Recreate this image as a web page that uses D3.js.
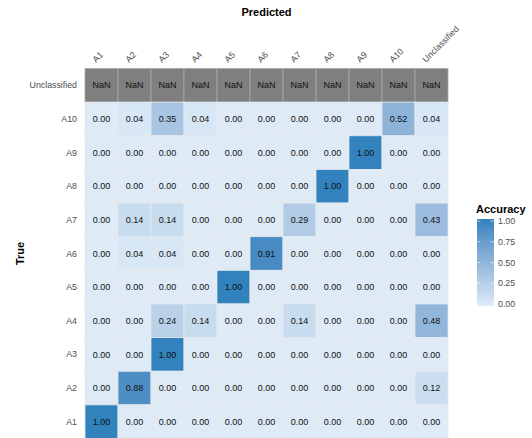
<!DOCTYPE html>
<meta charset="utf-8">
<script src="https://d3js.org/d3.v7.min.js"></script>
<style>
  body { margin: 0; background: #fff; }
  text { font-family: "Liberation Sans", Arial, sans-serif; }
</style>
<div id="chart"></div>
<script>

// classes, predicted along x, true along y (top row first)
const predicted = ["A1", "A2", "A3", "A4", "A5", "A6", "A7", "A8", "A9", "A10", "Unclassified"];
const trueRows = ["Unclassified", "A10", "A9", "A8", "A7", "A6", "A5", "A4", "A3", "A2", "A1"];

// accuracy per true class, columns in the order of `predicted`
const accA1  = [1, 0, 0, 0, 0, 0, 0, 0, 0, 0, 0];
const accA2  = [0, 0.88, 0, 0, 0, 0, 0, 0, 0, 0, 0.12];
const accA3  = [0, 0, 1, 0, 0, 0, 0, 0, 0, 0, 0];
const accA4  = [0, 0, 0.24, 0.14, 0, 0, 0.14, 0, 0, 0, 0.48];
const accA5  = [0, 0, 0, 0, 1, 0, 0, 0, 0, 0, 0];
const accA6  = [0, 0.04, 0.04, 0, 0, 0.91, 0, 0, 0, 0, 0];
const accA7  = [0, 0.14, 0.14, 0, 0, 0, 0.29, 0, 0, 0, 0.43];
const accA8  = [0, 0, 0, 0, 0, 0, 0, 1, 0, 0, 0];
const accA9  = [0, 0, 0, 0, 0, 0, 0, 0, 1, 0, 0];
const accA10 = [0, 0.04, 0.35, 0.04, 0, 0, 0, 0, 0, 0.52, 0.04];
const accUnclassified = [NaN, NaN, NaN, NaN, NaN, NaN, NaN, NaN, NaN, NaN, NaN];

const legendTicks = [0, 0.25, 0.5, 0.75, 1];

const byRow = {
  A1: accA1, A2: accA2, A3: accA3, A4: accA4, A5: accA5, A6: accA6,
  A7: accA7, A8: accA8, A9: accA9, A10: accA10, Unclassified: accUnclassified
};

const cells = [];
trueRows.forEach(r => {
  byRow[r].forEach((v, i) => cells.push({truth: r, pred: predicted[i], value: v}));
});

const W = 532, H = 438;
const svg = d3.select("#chart").append("svg")
  .attr("width", W).attr("height", H);

const x = d3.scaleBand().domain(predicted).range([85, 448]);
const y = d3.scaleBand().domain(trueRows).range([68.5, 438.5]);

const color = d3.scaleLinear()
  .domain([0, 1])
  .range(["#deebf7", "#3182bd"])
  .interpolate(d3.interpolateLab);

// tiles
svg.append("g")
  .selectAll("rect")
  .data(cells)
  .join("rect")
    .attr("x", d => x(d.pred))
    .attr("y", d => y(d.truth))
    .attr("width", x.bandwidth())
    .attr("height", y.bandwidth())
    .attr("fill", d => isNaN(d.value) ? "#7f7f7f" : color(d.value))
    .attr("stroke", d => isNaN(d.value) ? "#a8a8a8" : "#e6e8ea")
    .attr("stroke-width", 0.8);

// cell labels
svg.append("g")
  .selectAll("text")
  .data(cells)
  .join("text")
    .attr("x", d => x(d.pred) + x.bandwidth() / 2)
    .attr("y", d => y(d.truth) + y.bandwidth() / 2)
    .attr("dy", "0.35em")
    .attr("text-anchor", "middle")
    .style("font-size", "9px")
    .style("fill", "#111")
    .text(d => isNaN(d.value) ? "NaN" : d.value.toFixed(2));

// row labels
svg.append("g")
  .selectAll("text")
  .data(trueRows)
  .join("text")
    .attr("x", 77)
    .attr("y", d => y(d) + y.bandwidth() / 2)
    .attr("dy", "0.35em")
    .attr("text-anchor", "end")
    .style("font-size", "8.8px")
    .style("fill", "#4d4d4d")
    .text(d => d);

// column labels, rotated 45 degrees
svg.append("g")
  .selectAll("text")
  .data(predicted)
  .join("text")
    .attr("transform", d => `translate(${x(d) + x.bandwidth() / 2 - 5.5}, 63) rotate(-45)`)
    .style("font-size", "8.8px")
    .style("fill", "#4d4d4d")
    .text(d => d);

// axis titles
svg.append("text")
  .attr("x", (85 + 448) / 2)
  .attr("y", 16)
  .attr("text-anchor", "middle")
  .style("font-size", "11px")
  .style("font-weight", "bold")
  .text("Predicted");

svg.append("text")
  .attr("transform", `translate(24, ${(68.5 + 438.5) / 2}) rotate(-90)`)
  .attr("text-anchor", "middle")
  .style("font-size", "11px")
  .style("font-weight", "bold")
  .text("True");

// legend
const defs = svg.append("defs");
const grad = defs.append("linearGradient")
  .attr("id", "acc-grad")
  .attr("x1", 0).attr("y1", 1).attr("x2", 0).attr("y2", 0);
d3.range(0, 1.01, 0.1).forEach(t => {
  grad.append("stop").attr("offset", t).attr("stop-color", color(t));
});

const ly = d3.scaleLinear().domain([0, 1]).range([304, 221]);
const legend = svg.append("g");
legend.append("text")
  .attr("x", 476)
  .attr("y", 213)
  .style("font-size", "11px")
  .style("font-weight", "bold")
  .text("Accuracy");
legend.append("rect")
  .attr("x", 477).attr("y", ly(1) - 2)
  .attr("width", 17).attr("height", ly(0) - ly(1) + 4)
  .attr("fill", "url(#acc-grad)");
legend.selectAll("line.tl")
  .data(legendTicks)
  .join("line")
    .attr("x1", 477).attr("x2", 480.5)
    .attr("y1", d => ly(d)).attr("y2", d => ly(d))
    .attr("stroke", "#fff").attr("stroke-width", 0.6);
legend.selectAll("line.tr")
  .data(legendTicks)
  .join("line")
    .attr("x1", 490.5).attr("x2", 494)
    .attr("y1", d => ly(d)).attr("y2", d => ly(d))
    .attr("stroke", "#fff").attr("stroke-width", 0.6);
legend.selectAll("text.lab")
  .data(legendTicks)
  .join("text")
    .attr("x", 498)
    .attr("y", d => ly(d))
    .attr("dy", "0.35em")
    .style("font-size", "8.8px")
    .style("fill", "#4d4d4d")
    .text(d => d.toFixed(2));

</script>
